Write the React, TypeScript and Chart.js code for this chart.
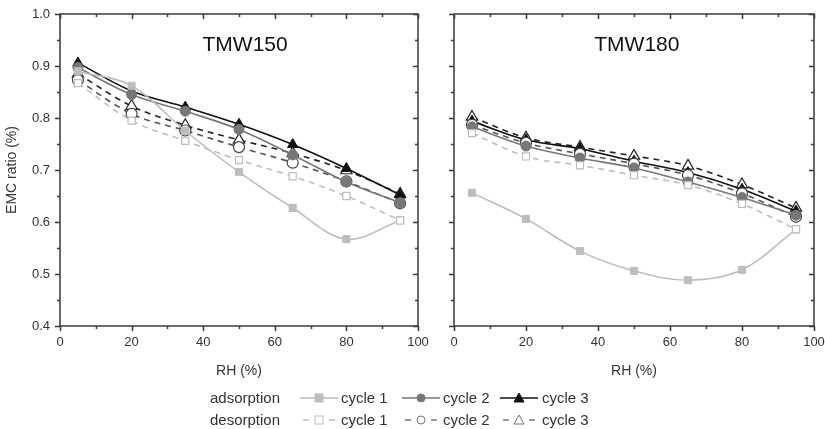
import React, { useEffect, useRef } from 'react';
import { Chart, registerables } from 'chart.js';

Chart.register(...registerables);

// ---------- data ----------
const rhValues = [5, 20, 35, 50, 65, 80, 95];
const xTickValues = [0, 20, 40, 60, 80, 100];
const yTickValues = [0.4, 0.5, 0.6, 0.7, 0.8, 0.9, 1.0];

const panelTitles = ['TMW150', 'TMW180'];

// TMW150
const tmw150AdsCycle1 = [0.89, 0.862, 0.775, 0.696, 0.627, 0.567, 0.603];
const tmw150AdsCycle2 = [0.897, 0.845, 0.813, 0.778, 0.729, 0.677, 0.637];
const tmw150AdsCycle3 = [0.906, 0.852, 0.821, 0.788, 0.749, 0.703, 0.652];
const tmw150DesCycle1 = [0.867, 0.795, 0.756, 0.719, 0.688, 0.65, 0.603];
const tmw150DesCycle2 = [0.873, 0.808, 0.776, 0.744, 0.714, 0.678, 0.636];
const tmw150DesCycle3 = [0.885, 0.823, 0.786, 0.758, 0.732, 0.699, 0.654];

// TMW180
const tmw180AdsCycle1 = [0.656, 0.606, 0.544, 0.506, 0.488, 0.508, 0.586];
const tmw180AdsCycle2 = [0.783, 0.746, 0.723, 0.704, 0.677, 0.647, 0.613];
const tmw180AdsCycle3 = [0.794, 0.758, 0.741, 0.717, 0.695, 0.663, 0.621];
const tmw180DesCycle1 = [0.771, 0.726, 0.709, 0.69, 0.671, 0.635, 0.586];
const tmw180DesCycle2 = [0.787, 0.752, 0.731, 0.712, 0.69, 0.655, 0.61];
const tmw180DesCycle3 = [0.802, 0.762, 0.744, 0.727, 0.708, 0.672, 0.627];

const LIGHT = '#bdbdbd';
const MID = '#777777';
const DARK = '#111111';
const FONT = '"Liberation Sans", Arial, sans-serif';

type Series = { ads1: number[]; ads2: number[]; ads3: number[]; des1: number[]; des2: number[]; des3: number[] };

const panels: Series[] = [
  { ads1: tmw150AdsCycle1, ads2: tmw150AdsCycle2, ads3: tmw150AdsCycle3, des1: tmw150DesCycle1, des2: tmw150DesCycle2, des3: tmw150DesCycle3 },
  { ads1: tmw180AdsCycle1, ads2: tmw180AdsCycle2, ads3: tmw180AdsCycle3, des1: tmw180DesCycle1, des2: tmw180DesCycle2, des3: tmw180DesCycle3 },
];

function toPoints(vals: number[]) {
  return vals.map((v, i) => ({ x: rhValues[i], y: v }));
}

function makeDatasets(s: Series) {
  const dash = [6, 5];
  return [
    { label: 'desorption cycle 1', data: toPoints(s.des1), borderColor: LIGHT, borderDash: dash, pointStyle: 'rect', pointBackgroundColor: '#fff', pointBorderColor: LIGHT, pointRadius: 5, pointBorderWidth: 1.2 },
    { label: 'adsorption cycle 1', data: toPoints(s.ads1), borderColor: LIGHT, pointStyle: 'rect', pointBackgroundColor: LIGHT, pointBorderColor: LIGHT, pointRadius: 5, pointBorderWidth: 1 },
    { label: 'adsorption cycle 2', data: toPoints(s.ads2), borderColor: MID, pointStyle: 'circle', pointBackgroundColor: MID, pointBorderColor: MID, pointRadius: 5, pointBorderWidth: 1 },
    { label: 'desorption cycle 2', data: toPoints(s.des2), borderColor: '#555', borderDash: dash, pointStyle: 'circle', pointBackgroundColor: '#fff', pointBorderColor: '#444', pointRadius: 5.5, pointBorderWidth: 1.2 },
    { label: 'adsorption cycle 3', data: toPoints(s.ads3), borderColor: DARK, pointStyle: 'triangle', pointBackgroundColor: DARK, pointBorderColor: DARK, pointRadius: 6, pointBorderWidth: 1 },
    { label: 'desorption cycle 3', data: toPoints(s.des3), borderColor: '#222', borderDash: dash, pointStyle: 'triangle', pointBackgroundColor: '#fff', pointBorderColor: '#222', pointRadius: 6.5, pointBorderWidth: 1.2 },
  ].map((d) => ({ ...d, borderWidth: 1.6, tension: 0.35, fill: false }));
}

const framePlugin = {
  id: 'frame',
  afterDraw(chart: any, _args: any, opts: any) {
    const { ctx, chartArea, scales } = chart;
    const { left, right, top, bottom } = chartArea;
    const x = scales.x;
    const y = scales.y;
    ctx.save();
    ctx.strokeStyle = '#3a3a3a';
    ctx.lineWidth = 1.5;
    ctx.strokeRect(left, top, right - left, bottom - top);
    ctx.beginPath();
    for (let v = 0; v <= 100; v += 10) {
      const px = Math.round(x.getPixelForValue(v)) + 0.5;
      const len = v % 20 === 0 ? 5 : 3;
      ctx.moveTo(px, bottom);
      ctx.lineTo(px, bottom + len);
      ctx.moveTo(px, top);
      ctx.lineTo(px, top + len);
    }
    for (let k = 0; k <= 12; k++) {
      const v = 0.4 + k * 0.05;
      const py = Math.round(y.getPixelForValue(v)) + 0.5;
      const len = k % 2 === 0 ? 5 : 3;
      ctx.moveTo(left, py);
      ctx.lineTo(left - len, py);
      ctx.moveTo(right, py);
      ctx.lineTo(right - len, py);
    }
    ctx.stroke();
    if (opts && opts.title) {
      ctx.fillStyle = '#111';
      ctx.font = `21px ${FONT}`;
      ctx.textAlign = 'center';
      ctx.textBaseline = 'middle';
      ctx.fillText(opts.title, left + (right - left) * opts.titleFrac, top + 31);
    }
    ctx.restore();
  },
};

function Panel({ index, width, height, leftW, padRight, showLabels }: { index: number; width: number; height: number; leftW: number; padRight: number; showLabels: boolean }) {
  const ref = useRef<HTMLCanvasElement | null>(null);
  useEffect(() => {
    if (!ref.current) return;
    const chart = new Chart(ref.current, {
      type: 'line',
      data: { datasets: makeDatasets(panels[index]) as any },
      options: {
        animation: false,
        responsive: false,
        devicePixelRatio: 1,
        layout: { padding: { top: 14, right: padRight, left: 0, bottom: 0 } },
        plugins: {
          legend: { display: false },
          tooltip: { enabled: false },
          frame: { title: panelTitles[index], titleFrac: index === 0 ? 0.517 : 0.508 },
        } as any,
        scales: {
          x: {
            type: 'linear',
            min: 0,
            max: 100,
            afterBuildTicks: (scale: any) => {
              scale.ticks = xTickValues.map((v) => ({ value: v }));
            },
            afterFit: (scale: any) => {
              scale.height = 64;
              scale.paddingLeft = 0;
              scale.paddingRight = 0;
            },
            grid: { display: false, drawTicks: false },
            border: { display: false },
            ticks: { padding: 9, color: '#333', font: { family: FONT, size: 13 }, maxRotation: 0 },
            title: { display: true, text: 'RH (%)', color: '#333', font: { family: FONT, size: 14 }, padding: { top: 0, bottom: 10 } },
          },
          y: {
            type: 'linear',
            min: 0.4,
            max: 1.0,
            afterBuildTicks: (scale: any) => {
              scale.ticks = yTickValues.map((v) => ({ value: v }));
            },
            afterFit: (scale: any) => {
              scale.width = leftW;
              scale.paddingTop = 0;
              scale.paddingBottom = 0;
            },
            grid: { display: false, drawTicks: false },
            border: { display: false },
            ticks: {
              display: showLabels,
              padding: 10,
              color: '#333',
              font: { family: FONT, size: 13 },
              callback: (v: any) => Number(v).toFixed(1),
            },
            title: { display: showLabels, text: 'EMC ratio (%)', color: '#333', font: { family: FONT, size: 14 }, padding: { top: 4, bottom: 4 } },
          },
        },
      },
      plugins: [framePlugin],
    });
    return () => chart.destroy();
  }, []);
  return <canvas ref={ref} width={width} height={height} style={{ width, height, display: 'block' }} />;
}

function LegendSymbol({ kind, color, fill, dashed }: { kind: string; color: string; fill: string; dashed: boolean }) {
  const w = 38;
  const h = 14;
  const cy = h / 2;
  const cx = w / 2;
  let marker: any = null;
  if (kind === 'rect') marker = <rect x={cx - 4} y={cy - 4} width={8} height={8} fill={fill} stroke={color} strokeWidth={1} />;
  if (kind === 'circle') marker = <circle cx={cx} cy={cy} r={4} fill={fill} stroke={color} strokeWidth={1} />;
  if (kind === 'triangle') marker = <polygon points={`${cx},${cy - 5} ${cx + 5},${cy + 4} ${cx - 5},${cy + 4}`} fill={fill} stroke={color} strokeWidth={1} />;
  return (
    <svg width={w} height={h} style={{ position: 'absolute' }}>
      {dashed ? (
        <g stroke={color} strokeWidth={1.5}>
          <line x1={3} y1={cy} x2={9} y2={cy} />
          <line x1={w - 9} y1={cy} x2={w - 3} y2={cy} />
        </g>
      ) : (
        <line x1={0} y1={cy} x2={w} y2={cy} stroke={color} strokeWidth={1.5} />
      )}
      {marker}
    </svg>
  );
}

const legendCycles = ['cycle 1', 'cycle 2', 'cycle 3'];
const legendRows = ['adsorption', 'desorption'];

export default function App() {
  const textStyle: any = { position: 'absolute', fontFamily: FONT, fontSize: 15, color: '#333', lineHeight: '18px', whiteSpace: 'nowrap' };
  const rowY = [389, 411];
  const symX = [300, 402, 500];
  const txtX = [341, 443, 542];
  const adsStyle = [
    { kind: 'rect', color: LIGHT, fill: LIGHT },
    { kind: 'circle', color: MID, fill: MID },
    { kind: 'triangle', color: DARK, fill: DARK },
  ];
  const desStyle = [
    { kind: 'rect', color: LIGHT, fill: '#fff' },
    { kind: 'circle', color: MID, fill: '#fff' },
    { kind: 'triangle', color: MID, fill: '#fff' },
  ];
  return (
    <div style={{ position: 'absolute', left: 0, top: 0, width: 825, height: 429, background: '#fff', overflow: 'hidden' }}>
      <div style={{ position: 'absolute', left: 0, top: 0 }}>
        <Panel index={0} width={438} height={390} leftW={60} padRight={20} showLabels={true} />
      </div>
      <div style={{ position: 'absolute', left: 440, top: 0 }}>
        <Panel index={1} width={385} height={390} leftW={14} padRight={11} showLabels={false} />
      </div>
      {legendRows.map((row, r) => (
        <React.Fragment key={row}>
          <div style={{ ...textStyle, left: 210, top: rowY[r] }}>{row}</div>
          {legendCycles.map((c, i) => {
            const st = r === 0 ? adsStyle[i] : desStyle[i];
            return (
              <React.Fragment key={c}>
                <div style={{ position: 'absolute', left: symX[i], top: rowY[r] + 2 }}>
                  <LegendSymbol kind={st.kind} color={st.color} fill={st.fill} dashed={r === 1} />
                </div>
                <div style={{ ...textStyle, left: txtX[i], top: rowY[r] }}>{c}</div>
              </React.Fragment>
            );
          })}
        </React.Fragment>
      ))}
    </div>
  );
}
